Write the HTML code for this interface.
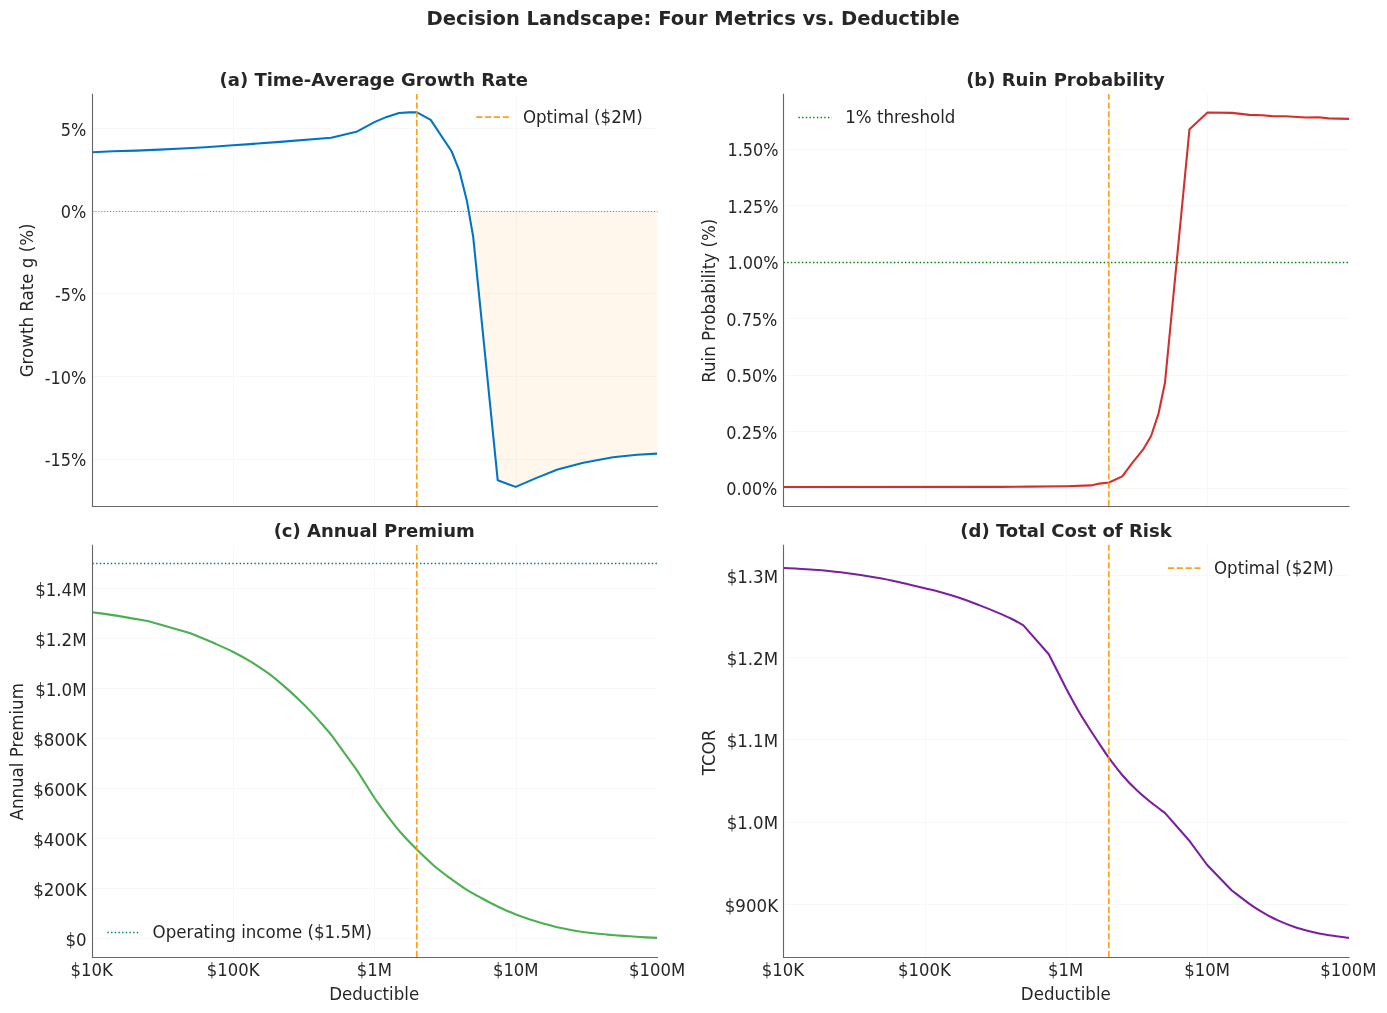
<!DOCTYPE html>
<html lang="en"><head><meta charset="utf-8"><title>Decision Landscape: Four Metrics vs. Deductible</title>
<style>html,body{margin:0;padding:0;background:#fff}svg{display:block}text{white-space:pre}</style></head>
<body>
<svg width="1387" height="1013" viewBox="0 0 1387 1013" font-family='"DejaVu Sans", "Liberation Sans", sans-serif' fill="#262626">
<rect width="1387" height="1013" fill="#ffffff"/>
<line x1="233.5" y1="94.0" x2="233.5" y2="506.5" stroke="#f8f8f8" stroke-width="1"/>
<line x1="374.5" y1="94.0" x2="374.5" y2="506.5" stroke="#f8f8f8" stroke-width="1"/>
<line x1="516.5" y1="94.0" x2="516.5" y2="506.5" stroke="#f8f8f8" stroke-width="1"/>
<line x1="92.2" y1="128.5" x2="657.2" y2="128.5" stroke="#f8f8f8" stroke-width="1"/>
<line x1="92.2" y1="211.5" x2="657.2" y2="211.5" stroke="#f8f8f8" stroke-width="1"/>
<line x1="92.2" y1="293.5" x2="657.2" y2="293.5" stroke="#f8f8f8" stroke-width="1"/>
<line x1="92.2" y1="376.5" x2="657.2" y2="376.5" stroke="#f8f8f8" stroke-width="1"/>
<line x1="92.2" y1="459.5" x2="657.2" y2="459.5" stroke="#f8f8f8" stroke-width="1"/>
<polygon points="473.20,211.00 473.20,236.80 497.70,480.20 515.70,486.90 536.60,477.85 557.60,469.50 583.30,462.70 613.00,457.30 637.10,454.80 657.40,453.60 657.40,211.00" fill="#ff9800" fill-opacity="0.08"/>
<line x1="92.45" y1="211.5" x2="657.6" y2="211.5" stroke="#808080" stroke-width="1.11" stroke-dasharray="1.11 1.83"/>
<polyline points="92.20,152.20 113.10,151.30 136.10,150.65 159.20,149.60 182.30,148.50 205.40,147.20 233.00,145.20 250.00,144.10 280.00,141.90 331.20,137.70 356.40,131.80 374.40,122.10 386.70,116.90 399.00,113.00 409.10,112.40 417.00,112.40 430.70,119.90 451.70,151.50 459.30,170.60 466.80,200.40 473.20,236.80 497.70,480.20 515.70,486.90 536.60,477.85 557.60,469.50 583.30,462.70 613.00,457.30 637.10,454.80 657.10,453.60" fill="none" stroke="#0075c6" stroke-width="2.08" stroke-linejoin="round"/>
<line x1="416.83" y1="506.1" x2="416.83" y2="94.0" stroke="#ff9800" stroke-opacity="0.9" stroke-width="1.67" stroke-dasharray="6.167 2.667"/>
<path d="M92.5 93.7 L92.5 506.5 L658.0 506.5" fill="none" stroke="#666666" stroke-width="1.11" stroke-linejoin="miter"/>
<line x1="476.2" y1="117.2" x2="509.5" y2="117.2" stroke="#ff9800" stroke-opacity="0.9" stroke-width="1.67" stroke-dasharray="6.167 2.667"/>
<line x1="925.5" y1="94.0" x2="925.5" y2="506.5" stroke="#f8f8f8" stroke-width="1"/>
<line x1="1066.5" y1="94.0" x2="1066.5" y2="506.5" stroke="#f8f8f8" stroke-width="1"/>
<line x1="1207.5" y1="94.0" x2="1207.5" y2="506.5" stroke="#f8f8f8" stroke-width="1"/>
<line x1="783.8" y1="149.5" x2="1348.8" y2="149.5" stroke="#f8f8f8" stroke-width="1"/>
<line x1="783.8" y1="205.5" x2="1348.8" y2="205.5" stroke="#f8f8f8" stroke-width="1"/>
<line x1="783.8" y1="262.5" x2="1348.8" y2="262.5" stroke="#f8f8f8" stroke-width="1"/>
<line x1="783.8" y1="318.5" x2="1348.8" y2="318.5" stroke="#f8f8f8" stroke-width="1"/>
<line x1="783.8" y1="375.5" x2="1348.8" y2="375.5" stroke="#f8f8f8" stroke-width="1"/>
<line x1="783.8" y1="431.5" x2="1348.8" y2="431.5" stroke="#f8f8f8" stroke-width="1"/>
<line x1="783.8" y1="488.5" x2="1348.8" y2="488.5" stroke="#f8f8f8" stroke-width="1"/>
<line x1="783.5" y1="262.5" x2="1349.2" y2="262.5" stroke="#008000" stroke-width="1.39" stroke-dasharray="1.39 2.29"/>
<polyline points="783.80,487.00 1000.00,486.90 1028.80,486.65 1066.60,486.20 1090.80,485.40 1099.50,483.60 1109.00,482.50 1122.30,476.40 1132.70,462.30 1143.00,449.70 1151.10,436.00 1158.60,413.30 1165.00,382.50 1189.50,129.20 1207.50,112.45 1232.00,112.90 1249.30,114.90 1262.30,115.30 1273.80,116.30 1285.40,116.30 1305.50,117.50 1318.50,117.20 1328.60,118.40 1349.00,118.90" fill="none" stroke="#d32f2f" stroke-width="2.08" stroke-linejoin="round"/>
<line x1="1108.83" y1="506.1" x2="1108.83" y2="94.0" stroke="#ff9800" stroke-opacity="0.9" stroke-width="1.67" stroke-dasharray="6.167 2.667"/>
<path d="M783.5 93.7 L783.5 506.5 L1349.6000000000001 506.5" fill="none" stroke="#666666" stroke-width="1.11" stroke-linejoin="miter"/>
<line x1="798.5" y1="117.5" x2="831.8" y2="117.5" stroke="#008000" stroke-width="1.39" stroke-dasharray="1.39 2.29"/>
<line x1="233.5" y1="545.0" x2="233.5" y2="957.5" stroke="#f8f8f8" stroke-width="1"/>
<line x1="374.5" y1="545.0" x2="374.5" y2="957.5" stroke="#f8f8f8" stroke-width="1"/>
<line x1="516.5" y1="545.0" x2="516.5" y2="957.5" stroke="#f8f8f8" stroke-width="1"/>
<line x1="92.2" y1="588.5" x2="657.2" y2="588.5" stroke="#f8f8f8" stroke-width="1"/>
<line x1="92.2" y1="638.5" x2="657.2" y2="638.5" stroke="#f8f8f8" stroke-width="1"/>
<line x1="92.2" y1="688.5" x2="657.2" y2="688.5" stroke="#f8f8f8" stroke-width="1"/>
<line x1="92.2" y1="738.5" x2="657.2" y2="738.5" stroke="#f8f8f8" stroke-width="1"/>
<line x1="92.2" y1="788.5" x2="657.2" y2="788.5" stroke="#f8f8f8" stroke-width="1"/>
<line x1="92.2" y1="838.5" x2="657.2" y2="838.5" stroke="#f8f8f8" stroke-width="1"/>
<line x1="92.2" y1="888.5" x2="657.2" y2="888.5" stroke="#f8f8f8" stroke-width="1"/>
<line x1="92.2" y1="938.5" x2="657.2" y2="938.5" stroke="#f8f8f8" stroke-width="1"/>
<line x1="92.45" y1="563.5" x2="657.6" y2="563.5" stroke="#00796b" stroke-width="1.39" stroke-dasharray="1.39 2.29"/>
<path d="M92.20 612.30 C96.25 612.85 107.10 614.12 116.50 615.60 C125.90 617.08 143.25 620.27 148.60 621.20 L190.50 633.30 C194.67 635.05 208.37 640.68 215.50 643.80 C222.63 646.92 227.37 648.98 233.30 652.00 C239.23 655.02 245.18 658.28 251.10 661.90 C257.02 665.52 262.88 669.28 268.80 673.70 C274.72 678.12 281.40 683.88 286.60 688.40 C291.80 692.92 296.17 697.13 300.00 700.80 C303.83 704.47 305.77 706.33 309.60 710.40 C313.43 714.47 319.29 721.00 323.00 725.20 C326.71 729.40 330.38 733.87 331.85 735.60 L357.00 770.40 L374.80 798.50 C376.78 801.22 382.35 809.08 386.70 814.80 C391.05 820.52 395.87 827.00 400.90 832.80 C405.93 838.60 411.48 844.20 416.90 849.60 C422.32 855.00 427.93 860.48 433.40 865.20 C438.87 869.92 444.27 873.88 449.70 877.90 C455.13 881.92 460.57 885.87 466.00 889.30 C471.43 892.73 476.87 895.55 482.30 898.50 C487.73 901.45 492.90 904.30 498.60 907.00 C504.30 909.70 511.00 912.53 516.50 914.70 C522.00 916.87 527.28 918.58 531.60 920.00 C535.92 921.42 537.88 921.98 542.40 923.25 C546.92 924.52 553.28 926.36 558.70 927.60 C564.12 928.84 569.50 929.80 574.90 930.70 C580.30 931.60 585.70 932.35 591.10 933.00 C596.50 933.65 601.88 934.12 607.30 934.60 C612.72 935.08 618.18 935.50 623.60 935.90 C629.02 936.30 634.22 936.67 639.80 937.00 C645.38 937.33 654.22 937.75 657.10 937.90" fill="none" stroke="#4caf50" stroke-width="2.08" stroke-linejoin="round"/>
<line x1="416.83" y1="957.1" x2="416.83" y2="545.0" stroke="#ff9800" stroke-opacity="0.9" stroke-width="1.67" stroke-dasharray="6.167 2.667"/>
<path d="M92.5 544.7 L92.5 957.5 L658.0 957.5" fill="none" stroke="#666666" stroke-width="1.11" stroke-linejoin="miter"/>
<line x1="107.4" y1="932.5" x2="140.3" y2="932.5" stroke="#00796b" stroke-width="1.39" stroke-dasharray="1.39 2.29"/>
<line x1="925.5" y1="545.0" x2="925.5" y2="957.5" stroke="#f8f8f8" stroke-width="1"/>
<line x1="1066.5" y1="545.0" x2="1066.5" y2="957.5" stroke="#f8f8f8" stroke-width="1"/>
<line x1="1207.5" y1="545.0" x2="1207.5" y2="957.5" stroke="#f8f8f8" stroke-width="1"/>
<line x1="783.8" y1="575.5" x2="1348.8" y2="575.5" stroke="#f8f8f8" stroke-width="1"/>
<line x1="783.8" y1="657.5" x2="1348.8" y2="657.5" stroke="#f8f8f8" stroke-width="1"/>
<line x1="783.8" y1="739.5" x2="1348.8" y2="739.5" stroke="#f8f8f8" stroke-width="1"/>
<line x1="783.8" y1="822.5" x2="1348.8" y2="822.5" stroke="#f8f8f8" stroke-width="1"/>
<line x1="783.8" y1="904.5" x2="1348.8" y2="904.5" stroke="#f8f8f8" stroke-width="1"/>
<path d="M783.80 568.00 C788.22 568.25 800.83 568.78 810.30 569.50 C819.77 570.22 828.70 570.80 840.60 572.30 C852.50 573.80 870.17 576.43 881.70 578.50 C893.23 580.57 902.48 583.03 909.80 584.70 C917.12 586.37 920.57 587.28 925.60 588.50 C930.63 589.72 934.39 590.45 940.00 592.00 C945.61 593.55 952.83 595.65 959.25 597.80 C965.67 599.95 972.09 602.43 978.50 604.90 C984.91 607.37 992.13 610.25 997.70 612.60 C1003.27 614.95 1007.62 616.87 1011.90 619.00 C1016.18 621.13 1021.48 624.33 1023.40 625.40 L1048.80 654.30 L1066.40 689.00 C1068.57 692.93 1075.33 705.63 1079.40 712.60 C1083.47 719.57 1087.38 725.47 1090.80 730.80 C1094.22 736.13 1096.88 740.10 1099.90 744.60 C1102.92 749.10 1105.15 752.70 1108.90 757.80 C1112.65 762.90 1117.83 769.87 1122.40 775.20 C1126.97 780.53 1131.67 785.37 1136.30 789.80 C1140.93 794.23 1145.43 797.95 1150.20 801.80 C1154.97 805.65 1162.45 811.05 1164.90 812.90 L1189.80 841.30 L1207.20 865.00 L1231.80 890.50 C1234.92 892.85 1244.93 900.70 1250.50 904.60 C1256.07 908.50 1260.53 911.23 1265.20 913.90 C1269.87 916.57 1273.62 918.42 1278.50 920.60 C1283.38 922.78 1289.18 925.20 1294.50 927.00 C1299.82 928.80 1305.08 930.10 1310.40 931.40 C1315.72 932.70 1319.97 933.72 1326.40 934.80 C1332.83 935.88 1345.23 937.38 1349.00 937.90" fill="none" stroke="#7b1fa2" stroke-width="2.08" stroke-linejoin="round"/>
<line x1="1108.83" y1="957.1" x2="1108.83" y2="545.0" stroke="#ff9800" stroke-opacity="0.9" stroke-width="1.67" stroke-dasharray="6.167 2.667"/>
<path d="M783.5 544.7 L783.5 957.5 L1349.6000000000001 957.5" fill="none" stroke="#666666" stroke-width="1.11" stroke-linejoin="miter"/>
<line x1="1167.9" y1="568.2" x2="1201.2" y2="568.2" stroke="#ff9800" stroke-opacity="0.9" stroke-width="1.67" stroke-dasharray="6.167 2.667"/>
<g style="mix-blend-mode:darken"><text x="693.2" y="24.6" font-size="19.5" text-anchor="middle" font-weight="bold">Decision Landscape: Four Metrics vs. Deductible</text>
<text transform="translate(86.3 136) scale(0.965 1.068)" font-size="16.67" text-anchor="end" font-weight="normal">5%</text>
<text transform="translate(86.3 218) scale(0.965 1.068)" font-size="16.67" text-anchor="end" font-weight="normal">0%</text>
<text transform="translate(86.3 301) scale(0.965 1.068)" font-size="16.67" text-anchor="end" font-weight="normal">-5%</text>
<text transform="translate(86.3 384) scale(0.965 1.068)" font-size="16.67" text-anchor="end" font-weight="normal">-10%</text>
<text transform="translate(86.3 466) scale(0.965 1.068)" font-size="16.67" text-anchor="end" font-weight="normal">-15%</text>
<text x="373.8" y="85.7" font-size="18.0" text-anchor="middle" font-weight="bold">(a) Time-Average Growth Rate</text>
<text transform="translate(33.0 300.4) rotate(-90) scale(1 1.068)" font-size="16.67" text-anchor="middle">Growth Rate g (%)</text>
<text transform="translate(522.9 123) scale(1 1.068)" font-size="16.67" text-anchor="start">Optimal ($2M)</text>
<text transform="translate(778.6 156) scale(0.965 1.068)" font-size="16.67" text-anchor="end" font-weight="normal">1.50%</text>
<text transform="translate(778.6 213) scale(0.965 1.068)" font-size="16.67" text-anchor="end" font-weight="normal">1.25%</text>
<text transform="translate(778.6 269) scale(0.965 1.068)" font-size="16.67" text-anchor="end" font-weight="normal">1.00%</text>
<text transform="translate(777.4 326) scale(0.965 1.068)" font-size="16.67" text-anchor="end" font-weight="normal">0.75%</text>
<text transform="translate(777.4 382) scale(0.965 1.068)" font-size="16.67" text-anchor="end" font-weight="normal">0.50%</text>
<text transform="translate(777.4 439) scale(0.965 1.068)" font-size="16.67" text-anchor="end" font-weight="normal">0.25%</text>
<text transform="translate(777.4 495) scale(0.965 1.068)" font-size="16.67" text-anchor="end" font-weight="normal">0.00%</text>
<text x="1065.5" y="85.8" font-size="18.0" text-anchor="middle" font-weight="bold">(b) Ruin Probability</text>
<text transform="translate(715.0 300.8) rotate(-90) scale(1 1.068)" font-size="16.67" text-anchor="middle">Ruin Probability (%)</text>
<text transform="translate(845.2 123) scale(1 1.068)" font-size="16.67" text-anchor="start">1% threshold</text>
<text transform="translate(86.6 596) scale(1 1.068)" font-size="16.67" text-anchor="end" font-weight="normal">$1.4M</text>
<text transform="translate(86.6 646) scale(1 1.068)" font-size="16.67" text-anchor="end" font-weight="normal">$1.2M</text>
<text transform="translate(86.6 696) scale(1 1.068)" font-size="16.67" text-anchor="end" font-weight="normal">$1.0M</text>
<text transform="translate(86.6 746) scale(1 1.068)" font-size="16.67" text-anchor="end" font-weight="normal">$800K</text>
<text transform="translate(86.6 796) scale(1 1.068)" font-size="16.67" text-anchor="end" font-weight="normal">$600K</text>
<text transform="translate(86.6 846) scale(1 1.068)" font-size="16.67" text-anchor="end" font-weight="normal">$400K</text>
<text transform="translate(86.6 896) scale(1 1.068)" font-size="16.67" text-anchor="end" font-weight="normal">$200K</text>
<text transform="translate(86.6 946) scale(1 1.068)" font-size="16.67" text-anchor="end" font-weight="normal">$0</text>
<text x="374.2" y="536.7" font-size="18.0" text-anchor="middle" font-weight="bold">(c) Annual Premium</text>
<text transform="translate(23.3 751.8) rotate(-90) scale(1 1.068)" font-size="16.67" text-anchor="middle">Annual Premium</text>
<text transform="translate(152.6 938) scale(1 1.068)" font-size="16.67" text-anchor="start">Operating income ($1.5M)</text>
<text transform="translate(778.1 583) scale(1 1.068)" font-size="16.67" text-anchor="end" font-weight="normal">$1.3M</text>
<text transform="translate(778.1 665) scale(1 1.068)" font-size="16.67" text-anchor="end" font-weight="normal">$1.2M</text>
<text transform="translate(778.1 747) scale(1 1.068)" font-size="16.67" text-anchor="end" font-weight="normal">$1.1M</text>
<text transform="translate(778.1 829) scale(1 1.068)" font-size="16.67" text-anchor="end" font-weight="normal">$1.0M</text>
<text transform="translate(778.1 912) scale(1 1.068)" font-size="16.67" text-anchor="end" font-weight="normal">$900K</text>
<text x="1066.0" y="536.7" font-size="18.0" text-anchor="middle" font-weight="bold">(d) Total Cost of Risk</text>
<text transform="translate(714.9 752.5) rotate(-90) scale(1 1.068)" font-size="16.67" text-anchor="middle">TCOR</text>
<text transform="translate(1214.0 574) scale(1 1.068)" font-size="16.67" text-anchor="start">Optimal ($2M)</text>
<text transform="translate(91.7 976) scale(0.99 1.068)" font-size="16.67" text-anchor="middle" font-weight="normal">$10K</text>
<text transform="translate(233.05 976) scale(0.99 1.068)" font-size="16.67" text-anchor="middle" font-weight="normal">$100K</text>
<text transform="translate(374.4 976) scale(0.99 1.068)" font-size="16.67" text-anchor="middle" font-weight="normal">$1M</text>
<text transform="translate(515.75 976) scale(0.99 1.068)" font-size="16.67" text-anchor="middle" font-weight="normal">$10M</text>
<text transform="translate(657.1 976) scale(0.99 1.068)" font-size="16.67" text-anchor="middle" font-weight="normal">$100M</text>
<text transform="translate(374.2 999.9) scale(1 1.068)" font-size="16.67" text-anchor="middle">Deductible</text>
<text transform="translate(783.0 976) scale(0.99 1.068)" font-size="16.67" text-anchor="middle" font-weight="normal">$10K</text>
<text transform="translate(924.35 976) scale(0.99 1.068)" font-size="16.67" text-anchor="middle" font-weight="normal">$100K</text>
<text transform="translate(1065.7 976) scale(0.99 1.068)" font-size="16.67" text-anchor="middle" font-weight="normal">$1M</text>
<text transform="translate(1207.05 976) scale(0.99 1.068)" font-size="16.67" text-anchor="middle" font-weight="normal">$10M</text>
<text transform="translate(1348.4 976) scale(0.99 1.068)" font-size="16.67" text-anchor="middle" font-weight="normal">$100M</text>
<text transform="translate(1065.8 999.9) scale(1 1.068)" font-size="16.67" text-anchor="middle">Deductible</text></g>
</svg>
</body></html>
